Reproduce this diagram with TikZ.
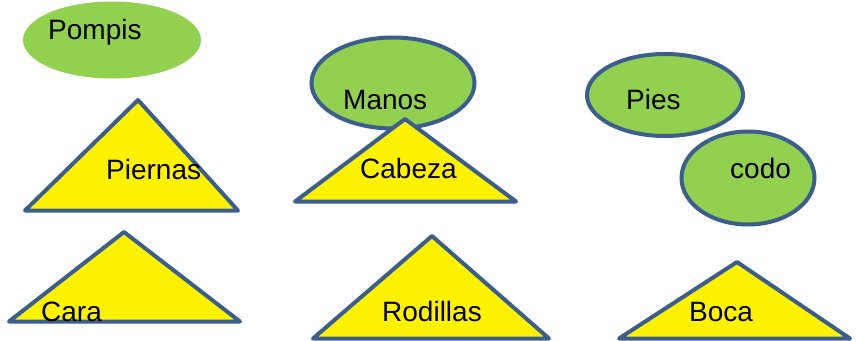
\documentclass[tikz,border=0pt]{standalone}
\usepackage{fontspec}
\setmainfont{Liberation Sans}
\usetikzlibrary{shapes.geometric}

\definecolor{leafgreen}{HTML}{92D050}
\definecolor{edgeblue}{HTML}{3B5E8F}

\tikzset{
  blob/.style={ellipse, fill=leafgreen, draw=edgeblue, line width=4pt, inner sep=0pt},
  tri/.style={fill=yellow, draw=edgeblue, line width=4pt, line join=round},
  word/.style={font=\fontsize{28}{32}\selectfont, inner sep=0pt, anchor=base west}
}

\begin{document}
\begin{tikzpicture}[x=1pt,y=-1pt]
    \useasboundingbox (0,0) rectangle (856,340);
    %% Draw the ovals
    \node[blob, draw=none, minimum width=178pt, minimum height=77pt] (pompisOval) at (112,40) {};
    \node[blob, minimum width=163pt, minimum height=91pt] (manosOval) at (393,83) {};
    \node[blob, minimum width=156pt, minimum height=82pt] (piesOval) at (665,95) {};
    \node[blob, minimum width=133pt, minimum height=93pt] (codoOval) at (748,178) {};
    %% Draw the triangles
    \draw[tri] (138,100) -- (238,210.5) -- (25,210.5) -- cycle;
    \draw[tri] (405,119) -- (516,201.5) -- (295,201.5) -- cycle;
    \draw[tri] (124,232) -- (240,321.5) -- (9,321.5) -- cycle;
    \draw[tri] (432,236) -- (549,338.5) -- (313,338.5) -- cycle;
    \draw[tri] (737,262) -- (850,338.5) -- (619,338.5) -- cycle;
    %% Draw the words
    \node[word] (pompis) at (48,39) {Pompis};
    \node[word] (manos) at (343,109) {Manos};
    \node[word] (pies) at (626,109) {Pies};
    \node[word] (piernas) at (106,179) {Piernas};
    \node[word] (cabeza) at (360,178) {Cabeza};
    \node[word] (codo) at (730,178) {codo};
    \node[word] (cara) at (41,321) {Cara};
    \node[word] (rodillas) at (382,321) {Rodillas};
    \node[word] (boca) at (689,321) {Boca};
  \end{tikzpicture}
\end{document}
